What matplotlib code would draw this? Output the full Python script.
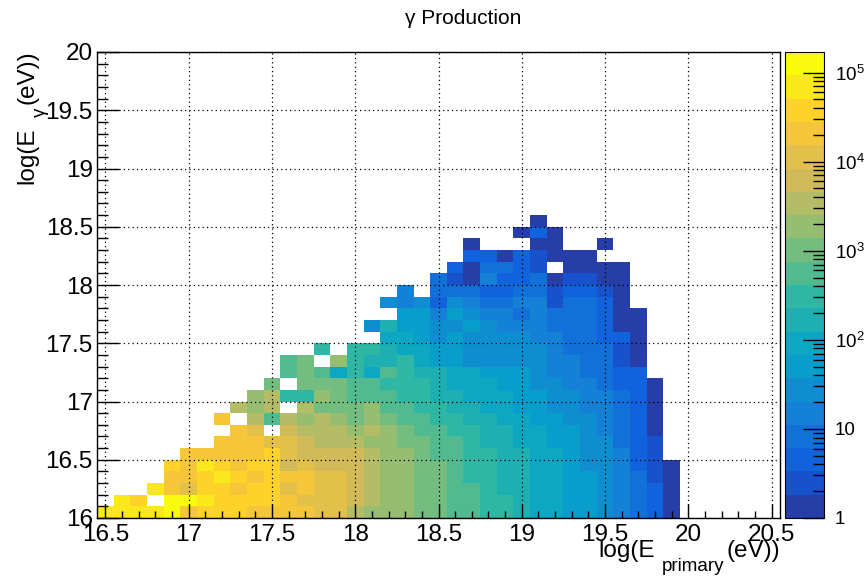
import numpy as np
import matplotlib
matplotlib.use("Agg")
import matplotlib.pyplot as plt
from matplotlib.colors import LinearSegmentedColormap, ListedColormap, LogNorm
from matplotlib.ticker import MultipleLocator, LogLocator, FuncFormatter, NullFormatter

FONT = "Liberation Sans"
plt.rcParams["font.family"] = [FONT, "DejaVu Sans"]
plt.rcParams["mathtext.fontset"] = "custom"
plt.rcParams["mathtext.rm"] = FONT
plt.rcParams["mathtext.it"] = FONT + ":italic"

# ── binning: 0.1 wide bins, x centred on tenths, y starting on tenths ──
x_edges = np.linspace(16.45, 19.95, 36)
y_edges = np.linspace(16.0, 18.6, 27)

# ── counts per y-row (columns log(E_primary) = 16.5 ... 19.9) ──
row_160 = [67000, 67000, 67000, 67000, 120000, 20000, 37000, 37000, 37000, 20000, 20000, 20000, 20000, 11000, 11000, 3300, 1800, 1800, 1800, 1000, 1000, 550, 550, 300, 300, 165, 90, 90, 50, 50, 27, 15, 8, 5, 1]
row_161 = [0, 67000, 37000, 0, 120000, 120000, 67000, 37000, 37000, 37000, 37000, 20000, 11000, 11000, 11000, 6000, 3300, 1800, 1800, 1000, 1000, 550, 550, 300, 300, 165, 90, 90, 50, 50, 27, 15, 8, 5, 1]
row_162 = [0, 0, 0, 67000, 20000, 11000, 37000, 37000, 20000, 37000, 37000, 11000, 20000, 11000, 11000, 6000, 3300, 1800, 1800, 1000, 1000, 550, 550, 300, 165, 165, 90, 90, 50, 50, 27, 15, 8, 5, 1]
row_163 = [0, 0, 0, 0, 20000, 20000, 37000, 67000, 37000, 20000, 37000, 20000, 20000, 11000, 11000, 6000, 3300, 1800, 1800, 1000, 1000, 550, 300, 300, 165, 165, 90, 90, 50, 50, 27, 15, 8, 2, 1]
row_164 = [0, 0, 0, 0, 37000, 20000, 67000, 37000, 20000, 37000, 37000, 6000, 11000, 6000, 6000, 6000, 3300, 1800, 1800, 1000, 1000, 550, 300, 300, 165, 165, 90, 90, 50, 27, 27, 15, 5, 2, 1]
row_165 = [0, 0, 0, 0, 0, 20000, 20000, 20000, 20000, 20000, 37000, 11000, 6000, 6000, 6000, 6000, 3300, 1800, 1800, 1000, 550, 550, 300, 300, 165, 165, 90, 90, 50, 27, 27, 15, 5, 2, 0]
row_166 = [0] * 7 + [20000, 20000, 20000, 11000, 11000, 6000, 3300, 3300, 3300, 1800, 1800, 1000, 1000, 550, 550, 300, 165, 165, 90, 90, 50, 50, 27, 27, 8, 5, 2, 0]
row_167 = [0] * 8 + [20000, 11000, 0, 6000, 3300, 3300, 3300, 1800, 3300, 1800, 1000, 550, 550, 300, 300, 165, 165, 90, 90, 50, 50, 27, 15, 8, 5, 1, 0]
row_168 = [0] * 7 + [20000, 0, 3300, 550, 3300, 1800, 3300, 1800, 1000, 1800, 1000, 550, 550, 300, 300, 165, 165, 90, 90, 50, 50, 27, 27, 15, 8, 5, 1, 0]
row_169 = [0] * 8 + [3300, 1800, 3300, 0, 3300, 1000, 1000, 1000, 1800, 550, 550, 300, 300, 165, 165, 90, 90, 50, 50, 27, 27, 15, 15, 8, 5, 1, 0]
row_170 = [0] * 9 + [1800, 3300, 300, 300, 1800, 1000, 550, 550, 550, 300, 300, 165, 165, 90, 90, 90, 50, 50, 27, 27, 15, 15, 8, 5, 1, 0]
row_171 = [0] * 10 + [1000, 0, 1000, 1000, 1000, 550, 550, 300, 300, 300, 165, 90, 90, 90, 50, 50, 27, 27, 15, 15, 8, 5, 5, 1, 0]
row_172 = [0] * 11 + [550, 1000, 550, 90, 300, 90, 550, 300, 165, 165, 90, 90, 50, 50, 50, 27, 15, 15, 8, 8, 5, 5, 0, 0]
row_173 = [0] * 11 + [550, 1000, 0, 1800, 300, 165, 165, 300, 90, 50, 50, 27, 27, 27, 27, 27, 15, 15, 8, 8, 2, 1, 0, 0]
row_174 = [0] * 13 + [300, 0, 300, 300, 165, 90, 90, 50, 50, 27, 27, 27, 27, 27, 15, 8, 8, 8, 2, 1, 0, 0]
row_175 = [0] * 17 + [90, 90, 50, 27, 50, 27, 27, 27, 27, 15, 15, 8, 8, 5, 5, 1, 0, 0]
row_176 = [0] * 16 + [27, 165, 50, 50, 27, 27, 50, 27, 15, 15, 15, 8, 8, 8, 5, 1, 1, 0, 0]
row_177 = [0] * 18 + [50, 50, 15, 50, 27, 15, 15, 8, 15, 8, 8, 8, 5, 1, 1, 0, 0]
row_178 = [0] * 17 + [27, 15, 27, 5, 27, 15, 8, 8, 15, 15, 2, 8, 8, 5, 1, 0, 0, 0]
row_179 = [0] * 18 + [15, 0, 8, 8, 8, 5, 5, 8, 8, 2, 5, 5, 2, 1, 0, 0, 0]
row_180 = [0] * 20 + [8, 2, 1, 15, 5, 5, 8, 1, 2, 2, 1, 1, 0, 0, 0]
row_181 = [0] * 21 + [5, 1, 8, 8, 5, 2, 0, 1, 1, 1, 1, 0, 0, 0]
row_182 = [0] * 22 + [5, 5, 1, 5, 2, 1, 1, 1, 0, 0, 0, 0, 0]
row_183 = [0] * 22 + [1, 0, 0, 0, 1, 1, 0, 0, 1, 0, 0, 0, 0]
row_184 = [0] * 25 + [1, 5, 1, 0, 0, 0, 0, 0, 0, 0]
row_185 = [0] * 26 + [1, 0, 0, 0, 0, 0, 0, 0, 0]

rows = [row_160, row_161, row_162, row_163, row_164, row_165, row_166, row_167,
        row_168, row_169, row_170, row_171, row_172, row_173, row_174, row_175,
        row_176, row_177, row_178, row_179, row_180, row_181, row_182, row_183,
        row_184, row_185]
counts = np.ma.masked_less_equal(np.array(rows, dtype=float), 0)

Z_MIN, Z_MAX = 1.0, 1.7e5
N_CONT = 20

# ── ROOT kBird palette, 20 log contours ──
stops = [0.0, 0.125, 0.25, 0.375, 0.5, 0.625, 0.75, 0.875, 1.0]
red   = [0.2082, 0.0592, 0.0780, 0.0232, 0.1802, 0.5301, 0.8186, 0.9956, 0.9764]
green = [0.1664, 0.3599, 0.5041, 0.6419, 0.7178, 0.7492, 0.7328, 0.7862, 0.9832]
blue  = [0.5293, 0.8684, 0.8385, 0.7914, 0.6425, 0.4662, 0.3499, 0.1968, 0.0539]
bird = LinearSegmentedColormap.from_list(
    "bird", list(zip(stops, zip(red, green, blue))), N=255)
bands = [bird(int((i + 0.99) * 255 / N_CONT) / 254) for i in range(N_CONT)]
cmap = ListedColormap(bands)
norm = LogNorm(vmin=Z_MIN, vmax=Z_MAX)

W, H = 867, 585
fig = plt.figure(figsize=(W / 100, H / 100), dpi=100, facecolor="white")
ax = fig.add_axes([97 / W, 67 / H, 683 / W, 466 / H])
cax = fig.add_axes([785 / W, 67 / H, 39 / W, 466 / H])

mesh = ax.pcolormesh(x_edges, y_edges, counts, cmap=cmap, norm=norm,
                     edgecolors="face", linewidth=0, antialiased=False, zorder=1)

ax.set_xlim(16.45, 20.55)
ax.set_ylim(16.0, 20.0)
ax.xaxis.set_major_locator(MultipleLocator(0.5))
ax.xaxis.set_minor_locator(MultipleLocator(0.1))
ax.yaxis.set_major_locator(MultipleLocator(0.5))
ax.yaxis.set_minor_locator(MultipleLocator(0.1))
ax.xaxis.set_major_formatter(FuncFormatter(lambda v, p: f"{v:g}"))
ax.yaxis.set_major_formatter(FuncFormatter(lambda v, p: f"{v:g}"))
ax.tick_params(axis="x", which="major", direction="in", length=10, width=1,
               labelsize=17.5, pad=4, top=False)
ax.tick_params(axis="x", which="minor", direction="in", length=5, width=1, top=False)
ax.tick_params(axis="y", which="major", direction="in", length=16, width=1,
               labelsize=17.5, pad=3, right=False)
ax.tick_params(axis="y", which="minor", direction="in", length=8, width=1, right=False)
ax.grid(True, which="major", color="black", linestyle=(0, (1, 2.5)), linewidth=0.9)
ax.set_axisbelow(False)
for s in ax.spines.values():
    s.set_linewidth(1.0)
    s.set_zorder(5)

# ── colour bar ──
cb = fig.colorbar(mesh, cax=cax)
cb.outline.set_linewidth(0.8)
cax.yaxis.set_ticks_position("right")
cax.yaxis.set_major_locator(LogLocator(base=10, numticks=10))
cax.yaxis.set_minor_locator(LogLocator(base=10, subs=np.arange(2, 10), numticks=10))
cax.yaxis.set_minor_formatter(NullFormatter())


def cb_label(v, p):
    e = int(round(np.log10(v)))
    if e == 0:
        return "1"
    if e == 1:
        return "10"
    return rf"$10^{{{e}}}$"


cax.yaxis.set_major_formatter(FuncFormatter(cb_label))
cax.tick_params(which="major", direction="in", length=15, width=1,
                labelsize=13.5, pad=8, right=True, left=False)
cax.tick_params(which="minor", direction="in", length=8, width=1,
                right=True, left=False)

# ── titles ──
fig.text(463 / W, 1 - 24 / H, "γ Production", ha="center", va="baseline",
         fontsize=15)

# x title: log(E_primary(eV)), right aligned to the frame
fig.text(598 / W, 28 / H, "log(E", ha="left", va="baseline", fontsize=17.5)
fig.text(662 / W, 14 / H, "primary", ha="left", va="baseline", fontsize=13.5)
fig.text(726 / W, 28 / H, "(eV))", ha="left", va="baseline", fontsize=17.5)

# y title: log(E_gamma(eV)), rotated, ending at the top of the frame
fig.text(33 / W, 1 - 184 / H, "log(E", rotation=90, rotation_mode="anchor",
         ha="left", va="baseline", fontsize=17.5)
fig.text(45 / W, 1 - 117 / H, "γ", rotation=90, rotation_mode="anchor",
         ha="left", va="baseline", fontsize=13.5)
fig.text(33 / W, 1 - 104 / H, "(eV))", rotation=90, rotation_mode="anchor",
         ha="left", va="baseline", fontsize=17.5)

fig.savefig("out.png", dpi=100, facecolor="white")
